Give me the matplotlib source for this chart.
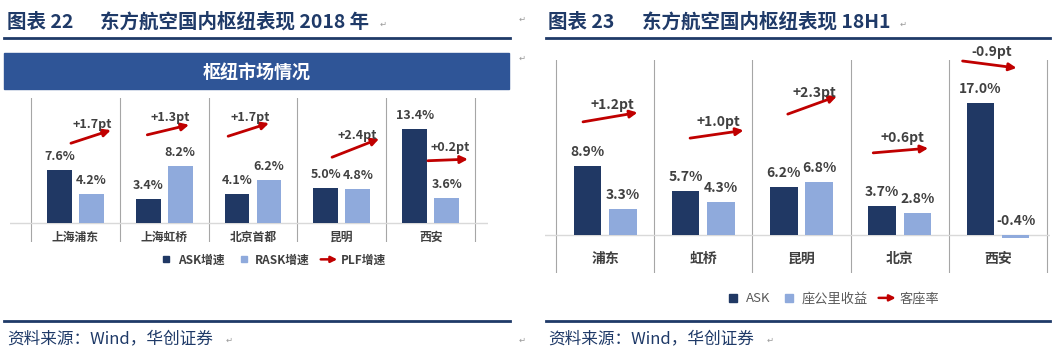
import matplotlib
matplotlib.use('Agg')
import matplotlib.pyplot as plt
from matplotlib.lines import Line2D
from matplotlib.patches import Rectangle, FancyArrowPatch
from matplotlib.legend_handler import HandlerBase

plt.rcParams['font.family'] = ['Noto Sans CJK SC', 'DejaVu Sans']

# ---- data ----
hubs_2018 = ['上海浦东', '上海虹桥', '北京首都', '昆明', '西安']
ask_2018 = [7.6, 3.4, 4.1, 5.0, 13.4]
rask_2018 = [4.2, 8.2, 6.2, 4.8, 3.6]
plf_2018 = [1.7, 1.3, 1.7, 2.4, 0.2]

hubs_18h1 = ['浦东', '虹桥', '昆明', '北京', '西安']
ask_18h1 = [8.9, 5.7, 6.2, 3.7, 17.0]
rask_18h1 = [3.3, 4.3, 6.8, 2.8, -0.4]
plf_18h1 = [1.2, 1.0, 2.3, 0.6, -0.9]

# ---- colours ----
NAVY = '#203864'
LIGHT = '#8FAADC'
RED = '#C00000'
TITLE = '#1F3A68'
TXT = '#404040'
GRID = '#A6A6A6'

W, H = 1062, 354
fig = plt.figure(figsize=(W / 100, H / 100), dpi=100)


def fx(x):
    return x / W


def fy(y):
    return 1 - y / H


def hline(x0, x1, y, color=TITLE, lw=2.0):
    fig.add_artist(Line2D([fx(x0), fx(x1)], [fy(y), fy(y)], color=color, lw=lw,
                          transform=fig.transFigure))


class ArrowHandler(HandlerBase):
    def create_artists(self, legend, orig_handle, xdescent, ydescent, width,
                       height, fontsize, trans):
        y = height / 2 - ydescent
        a = FancyArrowPatch((-xdescent, y), (width - xdescent, y), arrowstyle='-|>',
                            mutation_scale=9, color=RED, lw=1.8, shrinkA=0, shrinkB=0,
                            transform=trans)
        return [a]


def hub_chart(ax, hubs, ask, rask, plf, arr_x0, arr_dx, arr_y0, k, lab_y,
              vsize, csize, cweight):
    x = list(range(len(hubs)))
    w = 0.28
    ax.bar([i - 0.18 for i in x], ask, w, color=NAVY, zorder=3)
    ax.bar([i + 0.18 for i in x], rask, w, color=LIGHT, zorder=3)
    ax.axhline(0, color='#D9D9D9', lw=1.0, zorder=2)
    for b in [i - 0.5 for i in range(len(hubs) + 1)]:
        ax.axvline(b, color=GRID, lw=0.8, zorder=1)
    for i in x:
        for off, v in ((-0.18, ask[i]), (0.18, rask[i])):
            ax.annotate('%.1f%%' % v, (i + off, max(v, 0)), xytext=(0, 5),
                        textcoords='offset points', ha='center', va='bottom',
                        fontsize=vsize, fontweight='bold', color=TXT)
        ax.text(i, lab_y, hubs[i], ha='center', va='center', fontsize=csize,
                fontweight=cweight, color=TXT)
        # PLF arrow, slope follows the change
        xs, ys = i + arr_x0[i], arr_y0[i]
        xe, ye = xs + arr_dx[i], ys + k * plf[i]
        ax.annotate('', xy=(xe, ye), xytext=(xs, ys),
                    arrowprops=dict(arrowstyle='-|>', color=RED, lw=2.0,
                                    mutation_scale=11, shrinkA=0, shrinkB=0),
                    annotation_clip=False)
        ax.annotate('%+.1fpt' % plf[i], ((xs + xe) / 2 + 0.02, (ys + ye) / 2),
                    xytext=(0, 9), textcoords='offset points', ha='center',
                    va='center', fontsize=vsize, fontweight='bold', color=TXT,
                    annotation_clip=False)
    ax.axis('off')


# ================= left panel =================
fig.text(fx(7), fy(22), '图表 22', fontsize=14, fontweight='bold', color=TITLE,
         va='center')
fig.text(fx(100), fy(22), '东方航空国内枢纽表现 2018 年', fontsize=14,
         fontweight='bold', color=TITLE, va='center')
hline(4, 510, 38)
fig.add_artist(Rectangle((fx(4), fy(89)), fx(505), 36 / H, color='#2F5597',
                         transform=fig.transFigure))
fig.text(fx(257), fy(72), '枢纽市场情况', fontsize=13, fontweight='bold',
         color='white', ha='center', va='center')

ax1 = fig.add_axes([fx(10), fy(242), fx(478), 144 / H])
ax1.set_xlim(-0.736, 4.646)
ax1.set_ylim(-2.71, 17.86)
hub_chart(ax1, hubs_2018, ask_2018, rask_2018, plf_2018,
          arr_x0=[-0.05, -0.19, -0.28, -0.11, -0.03],
          arr_dx=[0.45, 0.47, 0.46, 0.53, 0.45],
          arr_y0=[11.4, 12.6, 12.4, 9.4, 8.9], k=1.1, lab_y=-2.0,
          vsize=9, csize=8.5, cweight='bold')

arrow_h = FancyArrowPatch((0, 0), (1, 0))
h1 = [Line2D([], [], marker='s', ls='none', color=NAVY, markersize=5),
      Line2D([], [], marker='s', ls='none', color=LIGHT, markersize=5), arrow_h]
fig.legend(h1, ['ASK增速', 'RASK增速', 'PLF增速'], loc='center',
           bbox_to_anchor=(fx(272), fy(260)), ncol=3, frameon=False,
           prop={'size': 8.5, 'weight': 'bold'}, labelcolor=TXT, handlelength=1.4,
           handletextpad=0.3, columnspacing=0.9,
           handler_map={arrow_h: ArrowHandler()})

hline(4, 510, 321)
fig.text(fx(7), fy(339), '资料来源：Wind，华创证券', fontsize=12, color=TITLE,
         va='center')

# ================= right panel =================
fig.text(fx(548), fy(22), '图表 23', fontsize=14, fontweight='bold', color=TITLE,
         va='center')
fig.text(fx(642), fy(22), '东方航空国内枢纽表现 18H1', fontsize=14,
         fontweight='bold', color=TITLE, va='center')
hline(546, 1050, 38)

ax2 = fig.add_axes([fx(545), fy(273), fx(505), 213 / H])
ax2.set_xlim(-0.612, 4.53)
ax2.set_ylim(-4.9, 22.58)
hub_chart(ax2, hubs_18h1, ask_18h1, rask_18h1, plf_18h1,
          arr_x0=[-0.225, -0.135, -0.14, -0.27, -0.36],
          arr_dx=[0.555, 0.545, 0.50, 0.56, 0.55],
          arr_y0=[14.6, 12.5, 15.6, 10.6, 22.45], k=1.0, lab_y=-3.1,
          vsize=10, csize=10, cweight='bold')

arrow_h2 = FancyArrowPatch((0, 0), (1, 0))
h2 = [Line2D([], [], marker='s', ls='none', color=NAVY, markersize=6),
      Line2D([], [], marker='s', ls='none', color=LIGHT, markersize=6), arrow_h2]
fig.legend(h2, ['ASK', '座公里收益', '客座率'], loc='center',
           bbox_to_anchor=(fx(832), fy(299)), ncol=3, frameon=False,
           prop={'size': 9.5}, labelcolor='#595959', handlelength=1.3,
           handletextpad=0.3, columnspacing=0.8,
           handler_map={arrow_h2: ArrowHandler()})

hline(546, 1050, 321)
fig.text(fx(548), fy(339), '资料来源：Wind，华创证券', fontsize=12, color=TITLE,
         va='center')

# paragraph marks
for px, py in [(380, 24), (519, 19), (519, 58), (226, 340), (519, 340), (900, 24), (767, 340)]:
    fig.text(fx(px), fy(py), '↵', fontsize=6, color='#9A9A9A', family='DejaVu Sans',
             va='center')

fig.savefig('out.png', dpi=100)
